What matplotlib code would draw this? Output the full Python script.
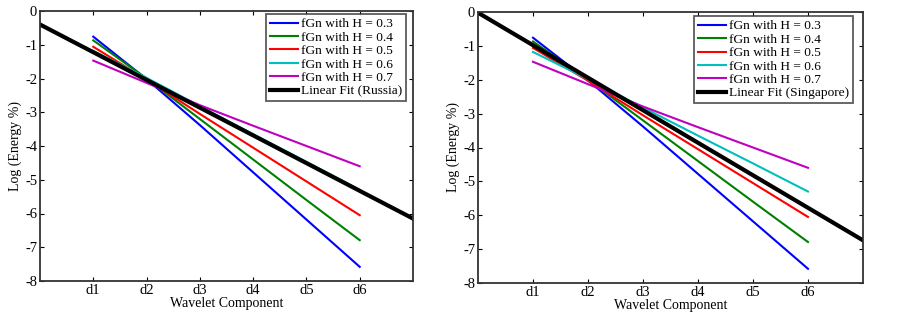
import matplotlib
matplotlib.use("Agg")
import matplotlib.pyplot as plt

plt.rcParams['font.family'] = ['Liberation Serif', 'DejaVu Serif']

components = ['d1', 'd2', 'd3', 'd4', 'd5', 'd6']
comp_pos = [1, 2, 3, 4, 5, 6]

h_labels = ['fGn with H = 0.3', 'fGn with H = 0.4', 'fGn with H = 0.5',
            'fGn with H = 0.6', 'fGn with H = 0.7']
fgn_h03 = [-0.76, -2.02, -3.38, -4.78, -6.18, -7.58]
fgn_h04 = [-0.87, -2.00, -3.20, -4.40, -5.60, -6.79]
fgn_h05 = [-1.06, -2.03, -3.05, -4.05, -5.05, -6.05]
fgn_h06 = [-1.18, -1.98, -2.82, -3.65, -4.47, -5.30]
fgn_h07 = [-1.47, -2.13, -2.79, -3.40, -4.00, -4.60]
fgn_series = [fgn_h03, fgn_h04, fgn_h05, fgn_h06, fgn_h07]

fit_x = [0, 7]
fit_russia = [-0.40, -6.15]
fit_singapore = [-0.02, -6.74]

y_ticks = [0, -1, -2, -3, -4, -5, -6, -7, -8]

colors = ['#0000ff', '#008000', '#ff0000', '#00bfbf', '#bf00bf']

fig = plt.figure(figsize=(9.03, 3.16), dpi=100)
ax1 = fig.add_axes([40/903, 1-281/316, 373/903, 270/316])
ax2 = fig.add_axes([478/903, 1-283/316, 385/903, 271/316])

def draw(ax, fit_vals, fit_label, anchor):
    for vals, c, lab in zip(fgn_series, colors, h_labels):
        ax.plot(comp_pos, vals, color=c, lw=1.5, label=lab)
    ax.plot(fit_x, fit_vals, color='black', lw=3.0, label=fit_label)
    ax.set_xlim(0, 7)
    ax.set_ylim(-8, 0)
    ax.set_xticks(comp_pos)
    ax.set_xticklabels(components)
    ax.set_yticks(y_ticks)
    ax.set_yticklabels([str(t) for t in y_ticks])
    ax.tick_params(direction='in', top=True, right=True, labelsize=10.5,
                   length=3, width=0.8, pad=2, colors='black')
    for s in ax.spines.values():
        s.set_linewidth(1.3)
        s.set_color('#333333')
    ax.set_xlabel('Wavelet Component', fontsize=10, labelpad=0)
    ax.set_ylabel('Log (Energy %)', fontsize=10, labelpad=2)
    leg = ax.legend(loc='upper right', bbox_to_anchor=anchor, fontsize=9.6,
                    frameon=True, fancybox=False,
                    borderpad=0.3, labelspacing=0.08, handlelength=2.1,
                    handletextpad=0.2, borderaxespad=0.0)
    leg.get_frame().set_edgecolor('#333333')
    leg.get_frame().set_linewidth(1.3)

draw(ax1, fit_russia, 'Linear Fit (Russia)', (0.981, 0.989))
draw(ax2, fit_singapore, 'Linear Fit (Singapore)', (0.974, 0.985))

fig.savefig('out.png', dpi=100)
